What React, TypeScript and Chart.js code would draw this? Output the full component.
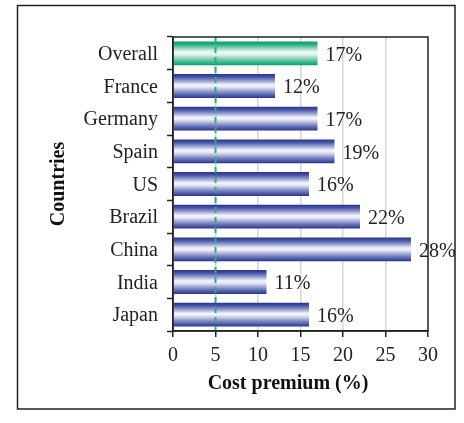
import React, { useEffect, useRef } from "react";
import { Chart, registerables } from "chart.js";

Chart.register(...registerables);

const categories: string[] = ["Overall", "France", "Germany", "Spain", "US", "Brazil", "China", "India", "Japan"];
const premiums: number[] = [17, 12, 17, 19, 16, 22, 28, 11, 16];
const xTicks: number[] = [0, 5, 10, 15, 20, 25, 30];
const referenceValue = 5;
const xTitle = "Cost premium (%)";
const yTitle = "Countries";

const FONT = "'Liberation Serif', 'Times New Roman', serif";
const BAR_PCT = 0.73;

const blueStops: [number, string][] = [
  [0, "#26358c"],
  [0.12, "#4453a4"],
  [0.3, "#9ea6d6"],
  [0.45, "#f4f5fb"],
  [0.55, "#e4e6f3"],
  [0.78, "#7a84c1"],
  [1, "#26358c"],
];
const greenStops: [number, string][] = [
  [0, "#00a06b"],
  [0.12, "#22ad7e"],
  [0.3, "#98d8bf"],
  [0.45, "#f3fbf7"],
  [0.55, "#e0f4ec"],
  [0.78, "#6cc6a3"],
  [1, "#00a06b"],
];

export default function App() {
  const ref = useRef<HTMLCanvasElement | null>(null);

  useEffect(() => {
    const canvas = ref.current;
    if (!canvas) return;

    const framePlugin = {
      id: "frame",
      beforeDraw(chart: any) {
        const ctx = chart.ctx;
        ctx.save();
        ctx.fillStyle = "#ffffff";
        ctx.fillRect(0, 0, chart.width, chart.height);
        ctx.strokeStyle = "#222";
        ctx.lineWidth = 1.5;
        ctx.strokeRect(17.5, 5.5, 437.5, 403.5);
        ctx.restore();
      },
      afterDatasetsDraw(chart: any) {
        const ctx = chart.ctx;
        const { left, right, top, bottom } = chart.chartArea;
        const xs = chart.scales.x;
        const rx = xs.getPixelForValue(referenceValue);
        ctx.save();
        ctx.strokeStyle = "#2faa86";
        ctx.lineWidth = 2;
        ctx.setLineDash([6, 4]);
        ctx.beginPath();
        ctx.moveTo(rx, top);
        ctx.lineTo(rx, bottom);
        ctx.stroke();
        ctx.setLineDash([]);
        ctx.strokeStyle = "#222";
        ctx.lineWidth = 1.5;
        ctx.strokeRect(left, top, right - left, bottom - top);
        ctx.fillStyle = "#222";
        ctx.font = `20px ${FONT}`;
        ctx.textAlign = "left";
        ctx.textBaseline = "middle";
        const meta = chart.getDatasetMeta(0);
        meta.data.forEach((bar: any, i: number) => {
          ctx.fillText(`${premiums[i]}%`, bar.x + 8, bar.y + 2);
        });
        ctx.fillStyle = "#111";
        ctx.font = `bold 20px ${FONT}`;
        ctx.textAlign = "center";
        ctx.fillText(xTitle, 288, 384);
        ctx.restore();
      },
    };

    const makeGradient = (context: any) => {
      const chart = context.chart;
      const area = chart.chartArea;
      const i = context.dataIndex ?? 0;
      const stops = i === 0 ? greenStops : blueStops;
      if (!area || !chart.scales.y) return stops[0][1];
      const ys = chart.scales.y;
      const cy = ys.getPixelForValue(i);
      const half = (area.height / categories.length) * BAR_PCT / 2;
      const g = chart.ctx.createLinearGradient(0, cy - half, 0, cy + half);
      stops.forEach(([p, c]) => g.addColorStop(p, c));
      return g;
    };

    const chart = new Chart(canvas, {
      type: "bar",
      data: {
        labels: categories,
        datasets: [
          {
            data: premiums,
            backgroundColor: makeGradient,
            borderWidth: 0,
            barPercentage: BAR_PCT,
            categoryPercentage: 1,
          },
        ],
      },
      options: {
        indexAxis: "y",
        responsive: false,
        animation: false,
        layout: { padding: { top: 37, right: 36, left: 0, bottom: 0 } },
        plugins: { legend: { display: false }, tooltip: { enabled: false } },
        scales: {
          x: {
            type: "linear",
            min: 0,
            max: 30,
            afterBuildTicks: (scale: any) => {
              scale.ticks = xTicks.map((v) => ({ value: v }));
            },
            afterFit: (scale: any) => {
              scale.height = 92;
            },
            ticks: {
              color: "#222",
              font: { family: FONT, size: 20 },
              padding: 7,
              maxRotation: 0,
            },
            grid: {
              color: (c: any) => (c.tick && (c.tick.value === 0 || c.tick.value === 30) ? "rgba(0,0,0,0)" : "#d6d6d6"),
              lineWidth: 1.5,
              tickColor: "#222",
              tickLength: 6,
              tickWidth: 1.5,
            },
            border: { display: true, color: "#222", width: 1.5 },
            title: { display: false, text: xTitle },
          },
          y: {
            type: "category",
            afterFit: (scale: any) => {
              scale.width = 173;
            },
            ticks: {
              color: "#222",
              font: { family: FONT, size: 20 },
              padding: 9,
              labelOffset: 1.5,
            },
            grid: {
              offset: true,
              drawOnChartArea: false,
              drawTicks: true,
              tickLength: 6,
              tickColor: "#222",
              tickWidth: 1.5,
            },
            border: { display: true, color: "#222", width: 1.5 },
            title: {
              display: true,
              text: yTitle,
              color: "#111",
              font: { family: FONT, size: 20, weight: "bold" },
              padding: { top: 47, bottom: 0 },
            },
          },
        },
      },
      plugins: [framePlugin],
    } as any);

    return () => chart.destroy();
  }, []);

  return (
    <div style={{ position: "fixed", left: 0, top: 0, width: 464, height: 423 }}>
      <canvas ref={ref} width={464} height={423} style={{ width: 464, height: 423, display: "block" }} />
    </div>
  );
}
